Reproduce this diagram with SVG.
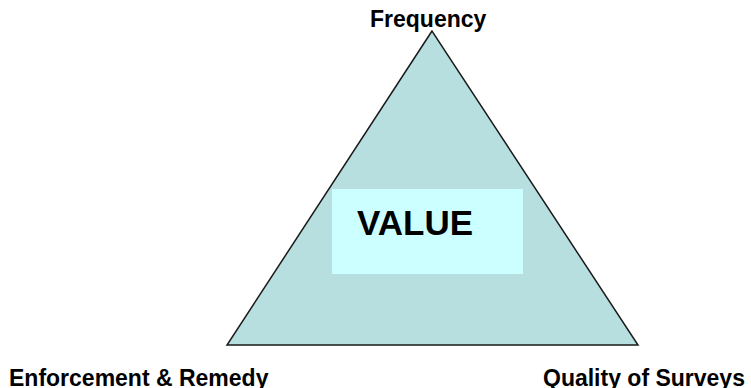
<svg xmlns="http://www.w3.org/2000/svg" width="751" height="388" viewBox="0 0 751 388">
<style>
  .lbl { font-family: "Liberation Sans", Arial, sans-serif; font-weight: bold; fill: #000; }
</style>
<rect width="751" height="388" fill="#ffffff"/>
<g id="triangle">
  <polygon points="432,31 227,345 638,345" fill="#b8dfe0" stroke="#1a1a1a" stroke-width="1.5" stroke-linejoin="miter"/>
</g>
<g id="value">
  <rect x="332" y="189" width="191" height="85" fill="#ccffff"/>
  <text class="lbl" x="357" y="235" font-size="35">VALUE</text>
</g>
<g id="frequency">
  <text class="lbl" x="370" y="27" font-size="23">Frequency</text>
</g>
<g id="enforcement">
  <text class="lbl" x="9" y="386" font-size="23">Enforcement &amp; Remedy</text>
</g>
<g id="quality">
  <text class="lbl" x="543" y="386" font-size="23">Quality of Surveys</text>
</g>
<g id="connectors"></g>
</svg>
